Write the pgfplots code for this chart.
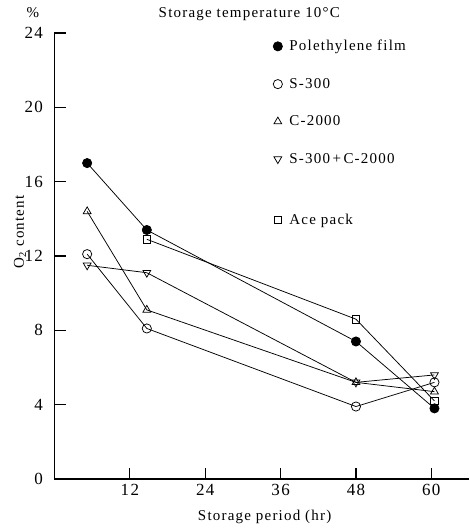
\documentclass[border=0pt]{standalone}
\usepackage{fontspec}
\setmainfont[LetterSpace=8]{Liberation Serif}
\usepackage{pgfplots}
\pgfplotsset{compat=1.18}

\begin{document}
\begin{tikzpicture}
\path[use as bounding box] (-54.5pt,-50pt) rectangle (414.5pt,479pt);
\begin{axis}[
  at={(0pt,0pt)}, anchor=south west,
  width=414.5pt, height=446pt, scale only axis,
  xmin=0, xmax=66, ymin=0, ymax=24,
  clip=false,
  axis lines=left, axis line style={-, line width=1.2pt},
  xtick={12,24,36,48,60}, ytick={0,4,...,24},
  tick align=inside, major tick length=11pt,
  tick style={line width=1.1pt, black},
  font=\fontsize{15}{17}\selectfont,
  /pgf/number format/assume math mode=true,
  tick label style={font=\fontsize{17}{19}\selectfont},
  xticklabel style={yshift=-2pt},
  yticklabel style={xshift=-8pt},
  title={Storage temperature 10°C},
  title style={at={(axis description cs:0.47,1.029)}, anchor=center},
  xlabel={Storage period (hr)},
  xlabel style={at={(axis description cs:0.507,-0.085)}, anchor=center},
  ylabel={O\textsubscript{2} content},
  ylabel style={at={(axis description cs:-0.083,0.554)}, anchor=center},
  every axis plot/.append style={black, line width=0.75pt, mark options={solid, fill=white, line width=0.75pt}},
  legend image code/.code={\draw[#1, only marks] plot coordinates {(0cm,0cm)};},
  legend style={draw=none, fill=none, at={(axis description cs:0.52,0.993)}, anchor=north west,
    row sep=22pt, font=\fontsize{15}{17}\selectfont, cells={anchor=west},
    /tikz/every odd column/.append style={column sep=5pt}},
]
\addplot[mark=*, mark size=4.6pt, mark options={fill=black}] coordinates {
  (5.2,17.0) (14.7,13.4) (48,7.4) (60.5,3.8)
};
\addlegendentry{Polethylene film}
\addplot[mark=o, mark size=4.6pt] coordinates {
  (5.2,12.1) (14.7,8.1) (48,3.9) (60.5,5.2)
};
\addlegendentry{S-300}
\addplot[mark=triangle, mark size=4.5pt] coordinates {
  (5.2,14.4) (14.7,9.1) (48,5.2) (60.5,4.7)
};
\addlegendentry{C-2000}
\addplot[mark=triangle, mark size=4.5pt, mark options={rotate=180}] coordinates {
  (5.2,11.5) (14.7,11.1) (48,5.2) (60.5,5.6)
};
\addlegendentry{S-300\,+\,C-2000}
\addlegendimage{empty legend}
\addlegendentry[inner sep=0pt, text height=0pt, text depth=0pt]{}
\addplot[mark=square, mark size=3.8pt] coordinates {
  (14.7,12.9) (48,8.6) (60.5,4.2)
};
\addlegendentry{Ace pack}
\node at (axis description cs:-0.052,1.045) {\%};
\end{axis}
\end{tikzpicture}
\end{document}
